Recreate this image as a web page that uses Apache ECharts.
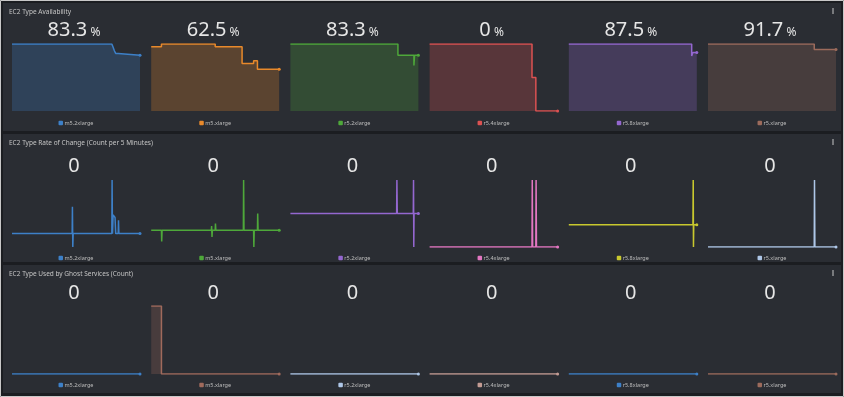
<!DOCTYPE html>
<html>
<head>
<meta charset="utf-8">
<style>
html, body { margin: 0; padding: 0; background: #1b1d21; }
#main { width: 844px; height: 397px; }
</style>
<script src="https://cdn.jsdelivr.net/npm/echarts@6/dist/echarts.min.js"></script>
</head>
<body>
<div id="main"></div>
<script>
// panel titles
var panelTitles = [
    'EC2 Type Availability',
    'EC2 Type Rate of Change (Count per 5 Minutes)',
    'EC2 Type Used by Ghost Services (Count)'
];

var instanceTypes = ['m5.2xlarge', 'm5.xlarge', 'r5.2xlarge', 'r5.4xlarge', 'r5.8xlarge', 'r5.xlarge'];
var rateTypes = ['m5.2xlarge', 'm5.xlarge', 'r5.2xlarge', 'r5.4xlarge', 'r5.8xlarge', 'r5.xlarge'];
var ghostTypes = ['m5.2xlarge', 'm5.xlarge', 'r5.2xlarge', 'r5.4xlarge', 'r5.8xlarge', 'r5.xlarge'];

var availColors = ['#3d80c8', '#e8892b', '#4ea83a', '#dc5252', '#9467d0', '#9c6b5c'];
var rateColors = ['#3d80c8', '#4ea83a', '#9467d0', '#e377c2', '#c8c82e', '#aec7e8'];
var ghostColors = ['#3d80c8', '#a06a5c', '#aec7e8', '#c49c94', '#3d80c8', '#9c6b5c'];

// x = position in the time window (0..100), y = value
// EC2 Type Availability (%)
var availM52x = [[0, 100], [78, 100], [79, 95], [80, 90], [81, 86], [83, 83.3], [100, 83.3]];
var availM5x = [[0, 95.8], [8, 100], [50, 95.8], [71, 70.8], [80, 75], [83, 62.5], [100, 62.5]];
var availR52x = [[0, 100], [84, 83.3], [96.5, 68], [97, 83.3], [100, 83.3]];
var availR54x = [[0, 100], [80, 50], [83, 0], [100, 0]];
var availR58x = [[0, 100], [96, 82], [97, 87.5], [100, 87.5]];
var availR5x = [[0, 100], [83, 91.7], [100, 91.7]];

// EC2 Type Rate of Change
var rateM52x = [[0, 0], [47, 0], [47.2, 2], [47.5, -1], [47.8, 0], [78, 0], [78.2, 4], [78.5, 0], [79, 1.4], [80.5, 1.2], [81, 0], [83, 0], [83.2, 1], [83.5, 0], [100, 0]];
var rateM5x = [[0, 0], [8, 0], [8.2, -0.67], [8.5, 0], [47, 0], [47.2, 0.25], [47.5, -0.4], [47.8, 0], [50, 0], [50.2, 0.4], [50.5, 0], [72, 0], [72.2, 3], [72.5, 0], [80, 0], [80.2, -1], [80.5, 0], [83, 0], [83.2, 1], [83.5, 0], [100, 0]];
var rateR52x = [[0, 0], [83, 0], [83.2, 1], [83.5, 0], [96, 0], [96.2, 1], [96.4, -1], [96.6, 0], [100, 0]];
var rateR54x = [[0, 0], [80, 0], [80.2, 1], [80.5, 0], [83, 0], [83.2, 1], [83.5, 0], [100, 0]];
var rateR58x = [[0, 0], [97, 0], [97.2, 2], [97.4, -1], [97.6, 0], [100, 0]];
var rateR5x = [[0, 0], [83, 0], [83.2, 1], [83.5, 0], [100, 0]];

// EC2 Type Used by Ghost Services (Count)
var ghostM52x = [[0, 0], [100, 0]];
var ghostM5x = [[0, 1], [8, 0], [100, 0]];
var ghostR52x = [[0, 0], [100, 0]];
var ghostR54x = [[0, 0], [100, 0]];
var ghostR58x = [[0, 0], [100, 0]];
var ghostR5x = [[0, 0], [100, 0]];

var panels = [
    {names: instanceTypes, colors: availColors, series: [availM52x, availM5x, availR52x, availR54x, availR58x, availR5x], unit: ' %'},
    {names: rateTypes, colors: rateColors, series: [rateM52x, rateM5x, rateR52x, rateR54x, rateR58x, rateR5x], unit: ''},
    {names: ghostTypes, colors: ghostColors, series: [ghostM52x, ghostM5x, ghostR52x, ghostR54x, ghostR58x, ghostR5x], unit: ''}
];

// layout of the three panels
var rows = [
    {y: 3, h: 128, titleY: 12, numY: 30, top: 44, height: 67, legendY: 123},
    {y: 134, h: 128, titleY: 143, numY: 166, top: 180, height: 67, legendY: 258},
    {y: 265, h: 128, titleY: 274, numY: 293, top: 306, height: 68, legendY: 385}
];
var colLeft = 12, colStep = 139.2, plotW = 128;
var fontFamily = '"Noto Sans", "Open Sans", sans-serif';

var option = {
    backgroundColor: '#1b1d21',
    animation: false,
    title: [],
    grid: [],
    xAxis: [],
    yAxis: [],
    series: [],
    graphic: []
};

option.graphic.push({
    type: 'rect', shape: {x: 0.5, y: 0.5, width: 843, height: 396},
    style: {fill: '#1b1d21', stroke: '#c8c8c8', lineWidth: 1}, z: -10
});

rows.forEach(function (row, p) {
    var panel = panels[p];
    option.graphic.push({
        type: 'rect', shape: {x: 3, y: row.y, width: 838, height: row.h},
        style: {fill: '#2a2d33'}, z: -9
    });
    [-2, 0, 2].forEach(function (d) {
        option.graphic.push({
            type: 'circle', shape: {cx: 833, cy: row.titleY - 1 + d, r: 0.8},
            style: {fill: '#dddddd'}, z: -8
        });
    });
    option.title.push({
        text: panelTitles[p], left: 9, top: row.titleY, padding: 0,
        textVerticalAlign: 'middle',
        textStyle: {fontSize: 6.5, fontWeight: 'normal', color: '#c4c4c4', fontFamily: fontFamily}
    });

    panel.series.forEach(function (pts, c) {
        var idx = option.grid.length;
        var left = colLeft + c * colStep;
        var cx = left + plotW / 2;
        var color = panel.colors[c];
        var last = pts[pts.length - 1][1];

        option.grid.push({left: left, top: row.top, width: plotW, height: row.height, containLabel: false});
        option.xAxis.push({type: 'value', gridIndex: idx, min: 0, max: 100, show: false});
        var yAxis = {type: 'value', gridIndex: idx, show: false};
        if (p === 0) {
            yAxis.min = 0;
            yAxis.max = 100;
        } else if (p === 1) {
            yAxis.min = 'dataMin';
            yAxis.max = 'dataMax';
        } else {
            yAxis.min = 0;
            yAxis.max = function (v) { return v.max > 0 ? v.max : 1; };
        }
        option.yAxis.push(yAxis);

        var data = pts.map(function (pt, i) {
            if (i === pts.length - 1) {
                return {value: pt, symbol: 'circle', symbolSize: 3};
            }
            return pt;
        });
        var s = {
            type: 'line',
            name: panel.names[c],
            xAxisIndex: idx,
            yAxisIndex: idx,
            step: 'end',
            symbol: 'none',
            showSymbol: true,
            silent: true,
            lineStyle: {color: color, width: 1.5},
            itemStyle: {color: color},
            data: data
        };
        if (p !== 1) {
            s.areaStyle = {color: color, opacity: 0.26};
        }
        option.series.push(s);

        // big latest value
        option.title.push({
            text: '{v|' + last + '}' + (panel.unit ? '{u|' + panel.unit + '}' : ''),
            left: cx - 2, top: row.numY, padding: 0,
            textAlign: 'center', textVerticalAlign: 'middle',
            textStyle: {
                fontWeight: 'normal',
                rich: {
                    v: {fontSize: 20, fontWeight: 'normal', color: '#e6e6e6', fontFamily: fontFamily},
                    u: {fontSize: 12, fontWeight: 'normal', color: '#e6e6e6', fontFamily: fontFamily, verticalAlign: 'bottom', padding: [0, 0, 1, 0]}
                }
            }
        });
        // legend
        option.title.push({
            text: '{i|}{t| ' + panel.names[c] + '}',
            left: cx, top: row.legendY, padding: 0,
            textAlign: 'center', textVerticalAlign: 'middle',
            textStyle: {
                fontWeight: 'normal',
                rich: {
                    i: {width: 4.5, height: 4.5, backgroundColor: color, borderRadius: 1},
                    t: {fontSize: 5.5, fontWeight: 'normal', color: '#bdbdbd', fontFamily: fontFamily}
                }
            }
        });
    });
});

var chart = echarts.init(document.getElementById('main'));
chart.setOption(option);
</script>
</body>
</html>
